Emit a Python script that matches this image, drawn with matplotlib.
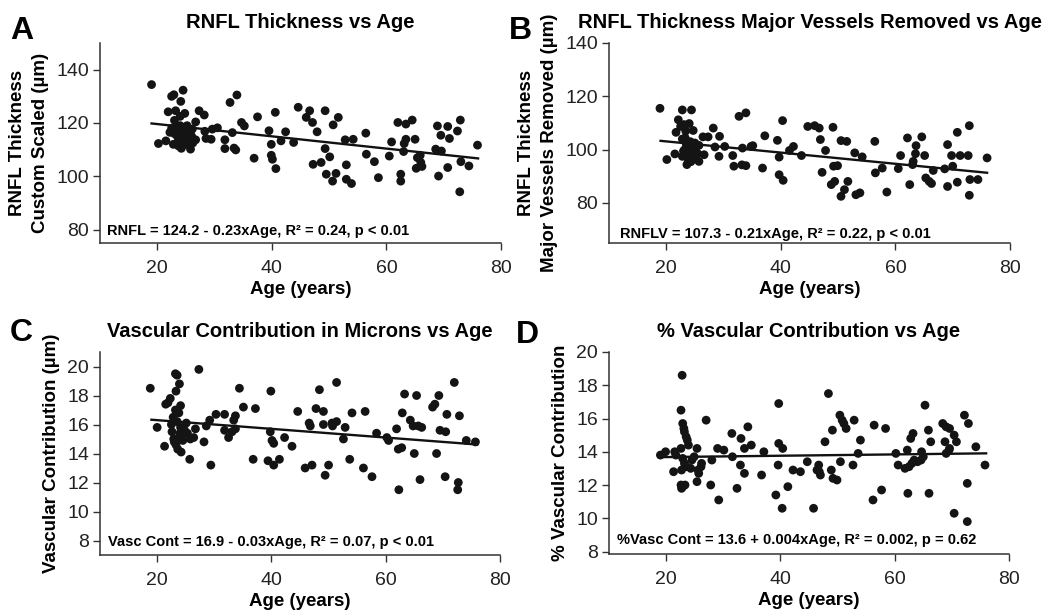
import numpy as np
import matplotlib.pyplot as plt

plt.rcParams['font.family'] = ['Liberation Sans', 'DejaVu Sans']

# (age in years, value)
pts_a = [(19.0, 134.4), (22.5, 130.0), (22.9, 130.6), (24.5, 132.3), (24.1, 128.1), (21.9, 124.2),
         (23.2, 124.6), (24.8, 123.6), (27.3, 124.6), (28.2, 123.0), (26.7, 120.4), (20.2, 112.3),
         (21.5, 113.3), (23.8, 117.7), (23.5, 118.9), (24.7, 114.9), (23.7, 111.4), (25.8, 110.2),
         (26.7, 113.7), (25.5, 116.4), (26.1, 117.7), (28.3, 116.9), (28.5, 114.2), (29.6, 117.7),
         (30.5, 118.2), (29.4, 113.9), (31.8, 113.7), (31.8, 110.4), (33.4, 110.6), (33.7, 109.9),
         (32.7, 127.7), (33.9, 130.5), (34.7, 120.2), (35.2, 118.9), (33.1, 116.4), (36.9, 106.8),
         (37.5, 122.3), (40.6, 124.0), (39.5, 117.1), (39.9, 112.0), (39.9, 107.9), (40.1, 106.4),
         (40.7, 102.9), (41.6, 113.3), (42.4, 116.7), (43.8, 112.7), (44.6, 125.9), (46.6, 124.6),
         (46.0, 122.1), (47.1, 120.2), (47.9, 116.7), (49.3, 124.6), (51.6, 122.1), (50.7, 119.3),
         (49.3, 110.4), (50.1, 107.3), (47.2, 104.5), (48.6, 105.2), (53.0, 104.3), (49.5, 100.8),
         (51.2, 101.1), (50.6, 98.2), (53.0, 98.9), (53.9, 97.3), (52.8, 113.7), (54.2, 113.9),
         (56.4, 116.2), (56.5, 108.3), (57.9, 105.5), (58.6, 99.5), (60.5, 107.6), (60.9, 112.9),
         (62.0, 120.2), (63.4, 119.6), (64.5, 121.1), (63.4, 113.9), (63.1, 112.3), (65.0, 113.9),
         (63.0, 109.3), (62.5, 100.8), (62.5, 98.2), (65.4, 107.0), (66.0, 105.2), (66.2, 103.7),
         (65.2, 103.0), (65.9, 107.9), (68.9, 118.9), (70.7, 118.7), (72.4, 117.0), (69.5, 115.4),
         (71.0, 114.2), (72.9, 121.1), (68.6, 110.2), (69.6, 109.5), (69.1, 100.1), (70.7, 103.3),
         (73.0, 105.5), (74.4, 103.9), (75.9, 111.7), (72.8, 94.2),
         (23.0, 116.0), (23.5, 115.0), (24.0, 113.0), (24.5, 116.0), (24.0, 119.0), (23.0, 121.0),
         (22.8, 112.0), (25.0, 112.0), (24.2, 110.5), (25.2, 119.0), (22.5, 118.0), (24.8, 117.5),
         (23.7, 114.0), (26.0, 115.0), (25.5, 113.0), (22.2, 116.5), (24.0, 122.5), (26.2, 112.5)]

pts_b = [(18.9, 115.5), (20.1, 96.3), (21.5, 98.4), (21.7, 106.5), (22.1, 111.2), (22.8, 114.9),
         (24.4, 114.9), (22.5, 108.7), (23.1, 109.4), (24.0, 109.8), (24.7, 107.2), (23.6, 94.4),
         (22.8, 97.5), (23.3, 104.4), (23.7, 101.2), (24.2, 98.8), (24.8, 97.5), (23.2, 100.0),
         (24.5, 100.6), (25.1, 99.4), (25.7, 101.6), (25.7, 95.6), (26.6, 98.1), (26.4, 104.8),
         (27.3, 104.8), (28.2, 108.1), (29.3, 105.0), (28.5, 101.0), (29.2, 97.5), (30.2, 101.2),
         (31.8, 93.8), (31.6, 97.8), (32.7, 112.5), (33.9, 113.8), (33.3, 100.6), (33.2, 94.3),
         (33.9, 94.0), (34.8, 101.2), (35.1, 101.5), (36.8, 93.1), (37.2, 105.2), (39.4, 103.5),
         (39.7, 97.2), (39.7, 90.6), (40.4, 88.5), (40.3, 110.9), (41.5, 99.7), (42.2, 101.2),
         (43.6, 97.8), (44.7, 108.7), (45.9, 109.0), (46.7, 108.1), (49.1, 108.4), (46.9, 103.8),
         (47.8, 99.7), (47.2, 91.5), (49.2, 93.8), (49.9, 94.0), (48.8, 86.9), (49.4, 88.1),
         (50.5, 82.5), (51.1, 85.0), (51.7, 88.1), (50.5, 103.4), (51.5, 103.1), (52.9, 98.8),
         (54.2, 97.3), (53.1, 83.1), (53.8, 83.8), (56.4, 103.1), (56.5, 91.3), (57.7, 93.1),
         (58.5, 84.1), (60.5, 92.9), (60.9, 97.8), (62.1, 104.4), (64.6, 104.8), (63.6, 101.5),
         (63.5, 98.5), (65.1, 97.8), (63.1, 95.6), (63.0, 94.4), (62.5, 86.9), (65.3, 89.4),
         (65.9, 88.1), (66.3, 87.3), (66.6, 92.2), (68.6, 92.8), (69.1, 101.9), (70.0, 93.8),
         (70.8, 106.5), (69.8, 97.8), (71.3, 97.8), (72.7, 97.8), (69.1, 86.2), (70.8, 87.8),
         (72.9, 109.0), (73.0, 88.8), (74.4, 88.8), (72.9, 82.9), (76.0, 96.9),
         (23.5, 102.0), (24.0, 99.0), (24.5, 97.0), (23.0, 99.5), (24.2, 103.0), (25.0, 102.5),
         (22.8, 104.0), (24.8, 100.0), (23.8, 96.5), (25.5, 98.5), (24.3, 95.5), (23.4, 107.0)]

pts_c = [(18.8, 18.5), (23.2, 19.5), (23.5, 19.4), (23.9, 18.8), (23.3, 18.3), (27.3, 19.8),
         (22.3, 17.8), (21.9, 17.5), (21.5, 17.4), (24.1, 17.3), (23.2, 17.0), (23.8, 16.8),
         (20.0, 15.8), (21.3, 14.5), (22.6, 15.5), (22.9, 15.0), (23.3, 14.6), (23.6, 14.3),
         (23.8, 15.1), (24.5, 14.9), (24.1, 15.8), (24.8, 15.6), (25.1, 16.1), (25.8, 15.0),
         (26.4, 15.1), (26.7, 15.7), (25.7, 13.6), (28.2, 14.8), (28.6, 15.9), (29.2, 16.3),
         (29.4, 13.2), (30.3, 16.7), (31.8, 16.7), (31.8, 15.6), (32.5, 15.1), (33.1, 15.5),
         (33.7, 15.7), (33.4, 16.3), (33.7, 16.6), (34.4, 18.5), (35.1, 17.2), (37.2, 17.1),
         (36.8, 13.6), (39.9, 18.3), (39.8, 15.5), (40.1, 14.9), (40.4, 14.7), (39.4, 13.5),
         (40.4, 13.2), (41.4, 13.6), (42.3, 15.1), (43.6, 14.5), (44.6, 16.9), (45.9, 13.0),
         (47.1, 13.2), (47.8, 17.1), (49.1, 16.9), (48.4, 18.4), (49.4, 12.5), (50.0, 13.2),
         (51.4, 18.9), (46.6, 16.1), (46.8, 15.9), (49.1, 16.0), (50.6, 16.1), (51.4, 16.2),
         (50.7, 15.9), (52.9, 15.8), (52.6, 15.0), (53.7, 13.6), (54.1, 16.8), (56.4, 16.9),
         (56.1, 13.0), (57.6, 12.4), (58.4, 15.4), (60.2, 15.1), (60.5, 14.9), (62.2, 14.3),
         (62.8, 14.4), (62.3, 11.5), (61.9, 15.7), (62.9, 16.8), (63.3, 18.1), (64.3, 16.3),
         (64.8, 15.9), (65.7, 15.9), (66.3, 15.8), (65.0, 14.0), (65.4, 18.0), (66.0, 12.2),
         (68.2, 17.2), (68.6, 17.4), (69.3, 18.0), (68.9, 14.0), (69.5, 15.6), (70.5, 15.5),
         (70.7, 16.7), (72.9, 16.6), (70.4, 12.4), (72.0, 18.9), (72.7, 12.0), (72.6, 11.5),
         (74.1, 14.9), (75.7, 14.8),
         (22.8, 16.5), (23.5, 16.2), (24.5, 15.3), (23.0, 14.8), (24.2, 14.1), (25.3, 15.4),
         (24.0, 15.4), (22.5, 16.0)]

pts_d = [(19.0, 13.8), (19.9, 14.0), (21.3, 12.8), (21.5, 14.0), (21.7, 13.8), (22.8, 18.6),
         (22.6, 16.5), (22.9, 15.7), (23.1, 15.4), (23.2, 15.2), (23.5, 14.9), (23.7, 14.7),
         (23.9, 14.4), (22.6, 14.2), (22.9, 13.6), (23.2, 13.3), (22.7, 12.9), (23.5, 13.1),
         (24.3, 13.0), (24.5, 13.5), (24.9, 13.7), (25.4, 14.2), (25.6, 12.9), (26.2, 13.3),
         (26.1, 13.1), (22.6, 12.0), (22.9, 11.9), (23.3, 12.0), (22.7, 11.8), (25.4, 12.2),
         (25.7, 12.7), (27.0, 15.9), (27.8, 12.0), (28.0, 13.5), (29.2, 11.1), (29.0, 14.2),
         (30.1, 14.1), (31.5, 15.1), (31.6, 13.7), (32.4, 11.8), (33.0, 13.2), (33.1, 14.8),
         (33.7, 14.2), (33.7, 12.7), (34.3, 15.5), (34.9, 14.4), (36.7, 12.6), (37.1, 14.0),
         (39.2, 11.4), (39.7, 16.9), (39.7, 14.5), (40.4, 14.2), (39.6, 13.2), (40.3, 10.6),
         (41.3, 11.9), (42.2, 12.9), (43.5, 12.8), (44.7, 13.4), (45.8, 10.6), (46.7, 13.2),
         (46.4, 12.9), (47.0, 12.6), (46.8, 12.8), (47.8, 14.6), (48.4, 17.5), (48.9, 12.9),
         (49.2, 12.4), (49.9, 12.3), (49.1, 15.3), (50.4, 16.2), (50.8, 15.9), (51.1, 15.7),
         (51.5, 15.4), (50.5, 13.4), (52.7, 13.2), (52.9, 15.9), (53.6, 13.9), (54.0, 14.7),
         (56.2, 11.1), (56.4, 15.6), (57.7, 11.7), (58.4, 15.4), (60.2, 13.9), (60.6, 13.2),
         (61.8, 13.0), (62.5, 13.1), (63.0, 13.3), (63.4, 13.5), (64.0, 13.4), (64.6, 13.5),
         (65.0, 13.7), (64.7, 14.0), (62.2, 14.1), (62.8, 14.8), (63.2, 15.1), (62.3, 11.5),
         (65.3, 16.8), (65.9, 15.3), (66.3, 14.6), (66.0, 11.5), (68.4, 15.7), (69.0, 15.5),
         (69.6, 15.4), (68.8, 14.6), (69.6, 14.2), (69.5, 14.1), (69.0, 13.9), (70.4, 15.0),
         (70.8, 14.6), (72.2, 16.2), (72.9, 15.7), (70.4, 10.3), (72.7, 12.1), (72.7, 9.8),
         (74.2, 14.3), (75.8, 13.2)]

letters = ['A', 'B', 'C', 'D']
titles = ['RNFL Thickness vs Age',
          'RNFL Thickness Major Vessels Removed vs Age',
          'Vascular Contribution in Microns vs Age',
          '% Vascular Contribution vs Age']
# outer line of the y label (None if the label is a single line), inner line
ylabel_outer = ['RNFL Thickness', 'RNFL Thickness', None, None]
ylabel_inner = ['Custom Scaled (µm)', 'Major Vessels Removed (µm)',
                'Vascular Contribution (µm)', '% Vascular Contribution']
equations = ['RNFL = 124.2 - 0.23xAge, R² = 0.24, p < 0.01',
             'RNFLV = 107.3 - 0.21xAge, R² = 0.22, p < 0.01',
             'Vasc Cont = 16.9 - 0.03xAge, R² = 0.07, p < 0.01',
             '%Vasc Cont = 13.6 + 0.004xAge, R² = 0.002, p = 0.62']
intercepts = [124.2, 107.3, 16.9, 13.6]
slopes = [-0.23, -0.21, -0.03, 0.004]
fit_ages = [19, 76]
ylims = [(75, 150), (65, 140), (7, 21), (7.85, 20)]
yticks = [[80, 100, 120, 140], [80, 100, 120, 140],
          [8, 10, 12, 14, 16, 18, 20], [8, 10, 12, 14, 16, 18, 20]]
xticks = [20, 40, 60, 80]

W, H = 1047, 611
fig = plt.figure(figsize=(W / 100, H / 100), dpi=100)

# axes boxes in pixels: left, top, right, bottom
boxes = [(100, 43, 501, 243), (609, 43, 1010, 243),
         (100, 352, 500, 555), (609, 352, 1009, 554)]
letter_pos = [(10, 31), (509, 31), (10, 333), (516, 335)]
eq_pos = [(0.017, 0.06), (0.027, 0.045), (0.02, 0.066), (0.02, 0.07)]

for i, pts in enumerate([pts_a, pts_b, pts_c, pts_d]):
    l, t, r, b = boxes[i]
    ax = fig.add_axes([l / W, 1 - b / H, (r - l) / W, (b - t) / H])
    age, val = np.array(pts).T
    ax.scatter(age, val, s=40, color='#141414', edgecolors='none', zorder=3)
    xs = np.array(fit_ages, dtype=float)
    ax.plot(xs, intercepts[i] + slopes[i] * xs, color='#111111', lw=1.7, zorder=2)

    ax.set_xlim(10, 80)
    ax.set_ylim(*ylims[i])
    ax.set_xticks(xticks)
    ax.set_yticks(yticks[i])
    for s in ['top', 'right']:
        ax.spines[s].set_visible(False)
    for s in ['left', 'bottom']:
        ax.spines[s].set_linewidth(1.1)
        ax.spines[s].set_color('#333333')
    ax.tick_params(direction='out', length=5, width=1, color='#333333',
                   labelsize=14, labelcolor='#222222')
    ax.tick_params(axis='x', pad=7)
    ax.tick_params(axis='y', pad=3)

    ax.set_xlabel('Age (years)', fontsize=13.5, weight='bold', labelpad=3)
    ax.set_ylabel(ylabel_inner[i], fontsize=13.5, weight='bold', labelpad=5)
    if ylabel_outer[i]:
        ax.text(-0.2045, 0.5, ylabel_outer[i], transform=ax.transAxes, rotation=90,
                fontsize=13.5, weight='bold', ha='center', va='center')
    ax.set_title(titles[i], fontsize=14.5, weight='bold', pad=11)
    ax.text(eq_pos[i][0], eq_pos[i][1], equations[i], transform=ax.transAxes,
            fontsize=10.5, weight='bold', ha='left', va='center')

    fig.text(letter_pos[i][0] / W, 1 - letter_pos[i][1] / H, letters[i],
             fontsize=23, weight='bold', ha='left', va='center')

fig.savefig('out.png', dpi=100)
